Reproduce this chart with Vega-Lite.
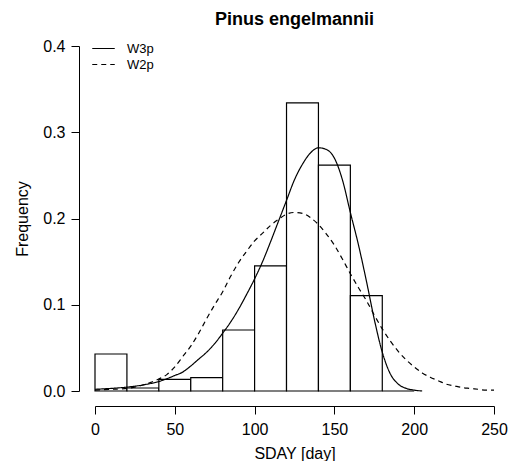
{
  "$schema": "https://vega.github.io/schema/vega-lite/v6.json",
  "width": 399,
  "height": 345,
  "autosize": {"type": "none"},
  "padding": {"left": 95, "top": 46, "right": 19, "bottom": 70},
  "background": "white",
  "title": {"text": "Pinus engelmannii", "font": "Liberation Sans", "fontSize": 18, "fontWeight": "bold", "color": "black", "anchor": "middle", "offset": 9},
  "config": {
    "view": {"stroke": null},
    "axis": {"grid": false, "domainColor": "black", "domainWidth": 1, "tickColor": "black", "tickWidth": 1, "tickSize": 8, "labelFont": "Liberation Sans", "labelFontSize": 16, "labelColor": "black", "titleFont": "Liberation Sans", "titleFontSize": 16, "titleFontWeight": "normal", "titleColor": "black", "labelFlush": false, "labelOverlap": false}
  },
  "datasets": {
    "bins": [
      {"start": 0, "end": 20, "freq": 0.0429},
      {"start": 20, "end": 40, "freq": 0.0035},
      {"start": 40, "end": 60, "freq": 0.0135},
      {"start": 60, "end": 80, "freq": 0.0155},
      {"start": 80, "end": 100, "freq": 0.0707},
      {"start": 100, "end": 120, "freq": 0.145},
      {"start": 120, "end": 140, "freq": 0.334},
      {"start": 140, "end": 160, "freq": 0.262},
      {"start": 160, "end": 180, "freq": 0.1105},
      {"start": 180, "end": 200, "freq": 0}
    ],
    "curves": [
      {"model": "W3p", "day": 0, "f": 0.002},
      {"model": "W3p", "day": 10, "f": 0.003},
      {"model": "W3p", "day": 20, "f": 0.0045},
      {"model": "W3p", "day": 30, "f": 0.007},
      {"model": "W3p", "day": 40, "f": 0.011},
      {"model": "W3p", "day": 50, "f": 0.018},
      {"model": "W3p", "day": 55, "f": 0.022},
      {"model": "W3p", "day": 60, "f": 0.029},
      {"model": "W3p", "day": 65, "f": 0.037},
      {"model": "W3p", "day": 70, "f": 0.045},
      {"model": "W3p", "day": 75, "f": 0.055},
      {"model": "W3p", "day": 80, "f": 0.067},
      {"model": "W3p", "day": 85, "f": 0.08},
      {"model": "W3p", "day": 90, "f": 0.095},
      {"model": "W3p", "day": 95, "f": 0.112},
      {"model": "W3p", "day": 100, "f": 0.13},
      {"model": "W3p", "day": 105, "f": 0.15},
      {"model": "W3p", "day": 110, "f": 0.173},
      {"model": "W3p", "day": 115, "f": 0.197},
      {"model": "W3p", "day": 120, "f": 0.221},
      {"model": "W3p", "day": 125, "f": 0.245},
      {"model": "W3p", "day": 130, "f": 0.263},
      {"model": "W3p", "day": 135, "f": 0.276},
      {"model": "W3p", "day": 140, "f": 0.282},
      {"model": "W3p", "day": 145, "f": 0.28},
      {"model": "W3p", "day": 150, "f": 0.27},
      {"model": "W3p", "day": 155, "f": 0.245},
      {"model": "W3p", "day": 160, "f": 0.207},
      {"model": "W3p", "day": 165, "f": 0.17},
      {"model": "W3p", "day": 170, "f": 0.128},
      {"model": "W3p", "day": 175, "f": 0.083},
      {"model": "W3p", "day": 180, "f": 0.045},
      {"model": "W3p", "day": 185, "f": 0.02},
      {"model": "W3p", "day": 190, "f": 0.008},
      {"model": "W3p", "day": 195, "f": 0.003},
      {"model": "W3p", "day": 200, "f": 0.001},
      {"model": "W3p", "day": 205, "f": 0},
      {"model": "W2p", "day": 0, "f": 0.001},
      {"model": "W2p", "day": 10, "f": 0.002},
      {"model": "W2p", "day": 20, "f": 0.003},
      {"model": "W2p", "day": 30, "f": 0.007},
      {"model": "W2p", "day": 35, "f": 0.01},
      {"model": "W2p", "day": 40, "f": 0.014},
      {"model": "W2p", "day": 45, "f": 0.019},
      {"model": "W2p", "day": 50, "f": 0.028},
      {"model": "W2p", "day": 55, "f": 0.04},
      {"model": "W2p", "day": 60, "f": 0.052},
      {"model": "W2p", "day": 65, "f": 0.067},
      {"model": "W2p", "day": 70, "f": 0.084},
      {"model": "W2p", "day": 75, "f": 0.1},
      {"model": "W2p", "day": 80, "f": 0.115},
      {"model": "W2p", "day": 85, "f": 0.133},
      {"model": "W2p", "day": 90, "f": 0.149},
      {"model": "W2p", "day": 95, "f": 0.162},
      {"model": "W2p", "day": 100, "f": 0.174},
      {"model": "W2p", "day": 105, "f": 0.183},
      {"model": "W2p", "day": 110, "f": 0.192},
      {"model": "W2p", "day": 115, "f": 0.199},
      {"model": "W2p", "day": 120, "f": 0.205},
      {"model": "W2p", "day": 125, "f": 0.207},
      {"model": "W2p", "day": 130, "f": 0.206},
      {"model": "W2p", "day": 135, "f": 0.201},
      {"model": "W2p", "day": 140, "f": 0.193},
      {"model": "W2p", "day": 145, "f": 0.182},
      {"model": "W2p", "day": 150, "f": 0.169},
      {"model": "W2p", "day": 155, "f": 0.153},
      {"model": "W2p", "day": 160, "f": 0.136},
      {"model": "W2p", "day": 165, "f": 0.12},
      {"model": "W2p", "day": 170, "f": 0.105},
      {"model": "W2p", "day": 175, "f": 0.088},
      {"model": "W2p", "day": 180, "f": 0.072},
      {"model": "W2p", "day": 185, "f": 0.058},
      {"model": "W2p", "day": 190, "f": 0.046},
      {"model": "W2p", "day": 195, "f": 0.036},
      {"model": "W2p", "day": 200, "f": 0.028},
      {"model": "W2p", "day": 205, "f": 0.021},
      {"model": "W2p", "day": 210, "f": 0.016},
      {"model": "W2p", "day": 215, "f": 0.012},
      {"model": "W2p", "day": 220, "f": 0.008},
      {"model": "W2p", "day": 225, "f": 0.006},
      {"model": "W2p", "day": 230, "f": 0.004},
      {"model": "W2p", "day": 235, "f": 0.003},
      {"model": "W2p", "day": 240, "f": 0.002},
      {"model": "W2p", "day": 245, "f": 0.001},
      {"model": "W2p", "day": 250, "f": 0.001}
    ]
  },
  "layer": [
    {
      "data": {"name": "bins"},
      "mark": {"type": "rect", "fill": "white", "stroke": "black", "strokeWidth": 1.2},
      "encoding": {
        "x": {"field": "start", "type": "quantitative", "scale": {"domain": [0, 250], "nice": false, "zero": false},
          "axis": {"values": [0, 50, 100, 150, 200, 250], "offset": 15, "labelPadding": 7, "title": "SDAY [day]", "titlePadding": 8}},
        "x2": {"field": "end"},
        "y": {"field": "freq", "type": "quantitative", "scale": {"domain": [0, 0.4], "nice": false},
          "axis": {"values": [0, 0.1, 0.2, 0.3, 0.4], "format": ".1f", "offset": 16, "labelPadding": 6, "title": "Frequency", "titlePadding": 12}},
        "y2": {"datum": 0}
      }
    },
    {
      "data": {"name": "curves"},
      "mark": {"type": "line", "color": "black", "strokeWidth": 1.2, "interpolate": "monotone"},
      "encoding": {
        "x": {"field": "day", "type": "quantitative"},
        "y": {"field": "f", "type": "quantitative"},
        "detail": {"field": "model"},
        "strokeDash": {
          "field": "model", "type": "nominal",
          "scale": {"domain": ["W3p", "W2p"], "range": [[1, 0], [5, 4]]},
          "legend": {
            "title": null, "orient": "none", "legendX": 0, "legendY": -6,
            "symbolType": "M-1.5,0H1.5", "symbolSize": 225, "symbolStrokeColor": "black", "symbolStrokeWidth": 1.2,
            "labelFont": "Liberation Sans", "labelFontSize": 13, "labelColor": "black", "labelOffset": 15,
            "rowPadding": 0, "padding": 0
          }
        }
      }
    }
  ]
}
